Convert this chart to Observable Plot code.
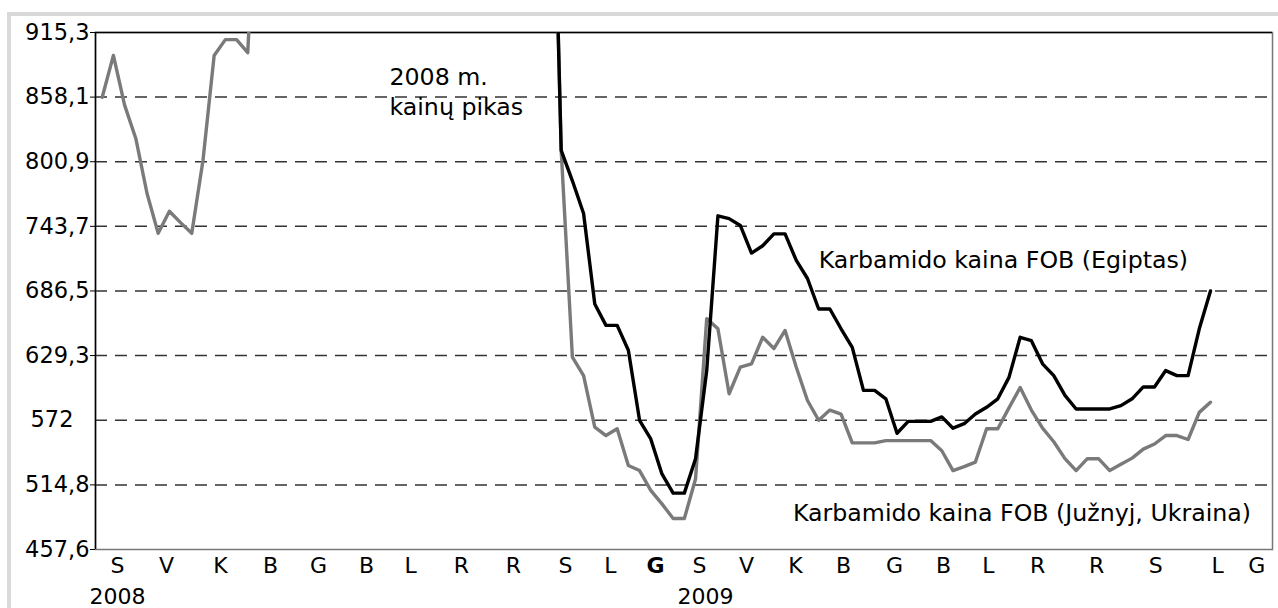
<!DOCTYPE html>
<html><head><meta charset="utf-8">
<script src="https://cdn.jsdelivr.net/npm/d3@7"></script>
<script src="https://cdn.jsdelivr.net/npm/@observablehq/plot@0.6"></script>
<style>
body{margin:0;background:#fff;}
#wrap{position:relative;width:1278px;height:608px;overflow:hidden;background:#fff;}
#wrap svg{position:absolute;left:0;top:0;}
#border{position:absolute;left:7px;top:12px;width:1400px;height:800px;border-left:4px solid #d9d9d9;border-top:4px solid #d9d9d9;pointer-events:none;}
</style></head><body><div id="wrap"></div>
<script>
// Weekly prices, week index 0..99 (Jan 2008 – Nov 2009); null = not shown
const juznyj = [
  858.0, 895, 851, 821.5, 773, 737.5, 757, 747, 737.5, 802,
  895, 909, 909, 897.5, 1100, null, null, null, null, null,
  null, null, null, null, null, null, null, null, null, null,
  null, null, null, null, null, null, null, null, null, null,
  1200, 811, 628, 611.5, 566, 558.5, 564.5, 532, 527.5, 510,
  498, 485, 485, 520, 662, 653, 595.5, 619, 622, 645.5,
  635.5, 651.5, 619, 589.5, 572, 581, 577.5, 552, 552, 552,
  554, 554, 554, 554, 554, 545, 527.5, 531, 535, 564.5,
  564.5, 583, 601, 581, 565, 553, 538, 527.5, 538, 538,
  527.5, 533, 538.5, 546.5, 551, 558.5, 558.5, 555, 579, 588
];
const egiptas = [
  null, null, null, null, null, null, null, null, null, null,
  null, null, null, null, null, null, null, null, null, null,
  null, null, null, null, null, null, null, null, null, null,
  null, null, null, null, null, null, null, null, null, null,
  1200, 811, 784, 755, 675, 656, 656, 634, 572, 555.5,
  524.5, 507.5, 507.5, 538, 616, 753, 750.5, 744.5, 720, 726.5,
  737, 737, 713.5, 697.5, 670.5, 670.5, 653, 636.5, 598.5, 598.5,
  591, 560.5, 571, 571, 571, 575, 565, 569, 577.5, 583.5,
  591, 610, 645.5, 642.5, 622, 611.5, 594, 582, 582, 582,
  582, 585, 591, 601.5, 601.5, 616, 611.5, 611.5, 653, 686.5
];
const monthLabels = ["S","V","K","B","G","B","L","R","R","S","L","G",
                     "S","V","K","B","G","B","L","R","R","S","L","G"];
const monthTickPos = [1.37, 5.74, 10.57, 15.03, 19.32, 23.61, 27.54, 32.09, 36.74, 41.38, 45.40, 49.42,
                      53.35, 57.55, 61.93, 66.22, 70.77, 75.15, 79.17, 83.55, 88.82, 94.10, 99.64, 103.13];
const boldMonthIndex = 11;
const yearLabels = ["2008", "2009"];
const yearTickPos = [1.37, 53.9];
const yTicks = [457.6, 514.8, 572, 629.3, 686.5, 743.7, 800.9, 858.1, 915.3];
const annoText = ["2008 m.\nkainų pikas", "Karbamido kaina FOB (Egiptas)", "Karbamido kaina FOB (Južnyj, Ukraina)"];
const annoX = [25.66, 64.0, 61.7];
const annoY = [842.7, 706.4, 482.4];

const xDomain = [-0.6, 104.54];
const toRows = arr => arr.map((v, i) => ({week: i, value: v == null ? NaN : v}));
const rowsJ = toRows(juznyj);
const rowsE = toRows(egiptas);
const annos = annoText.map((t, i) => ({t, x: annoX[i], y: annoY[i]}));
const fmtY = d => String(d).replace(".", ",");
const monthMap = new Map(monthTickPos.map((p, i) => [p, monthLabels[i]]));
const yearMap = new Map(yearTickPos.map((p, i) => [p, yearLabels[i]]));
const normalTicks = monthTickPos.filter((p, i) => i !== boldMonthIndex);
const boldTicks = [monthTickPos[boldMonthIndex]];

const chart = Plot.plot({
  width: 1278,
  height: 608,
  marginLeft: 95,
  marginRight: 6,
  marginTop: 32,
  marginBottom: 59,
  style: {fontFamily: "'DejaVu Sans', Verdana, sans-serif", fontSize: "22px", background: "transparent", color: "#000"},
  x: {domain: xDomain, axis: null},
  y: {domain: [yTicks[0], yTicks[yTicks.length - 1]], axis: null},
  marks: [
    Plot.ruleY(yTicks.slice(1, -1), {stroke: "#333", strokeWidth: 1.5, strokeDasharray: "12,8"}),
    Plot.frame({stroke: "#777", strokeWidth: 1.5}),
    Plot.ruleY([yTicks[yTicks.length - 1]], {stroke: "#000", strokeWidth: 1.5}),
    Plot.ruleX([xDomain[0]], {stroke: "#000", strokeWidth: 1.5}),
    Plot.line(rowsJ, {x: "week", y: "value", stroke: "#7a7a7a", strokeWidth: 3.4, clip: true}),
    Plot.line(rowsE, {x: "week", y: "value", stroke: "#000", strokeWidth: 3.4, clip: true}),
    Plot.axisY(yTicks.filter(d => d !== 572), {tickFormat: fmtY, tickSize: 5, tickPadding: 1, fontSize: 22.5, stroke: "#000"}),
    Plot.axisY([572], {tickFormat: fmtY, tickSize: 0, tickPadding: 22, fontSize: 22.5}),
    Plot.axisX(normalTicks, {tickFormat: d => monthMap.get(d), tickSize: 0, tickPadding: 8, fontSize: 22}),
    Plot.axisX(boldTicks, {tickFormat: d => monthMap.get(d), tickSize: 0, tickPadding: 8, fontSize: 22, fontWeight: "bold"}),
    Plot.axisX(yearTickPos, {tickFormat: d => yearMap.get(d), tickSize: 0, tickPadding: 39, fontSize: 22}),
    Plot.text(annos, {x: "x", y: "y", text: "t", textAnchor: "start", lineAnchor: "bottom", lineHeight: 1.25, fontSize: 23.7, fill: "#000"})
  ]
});
const wrap = document.getElementById("wrap");
wrap.appendChild(chart);
const border = document.createElement("div");
border.id = "border";
wrap.appendChild(border);
</script>
</body></html>
